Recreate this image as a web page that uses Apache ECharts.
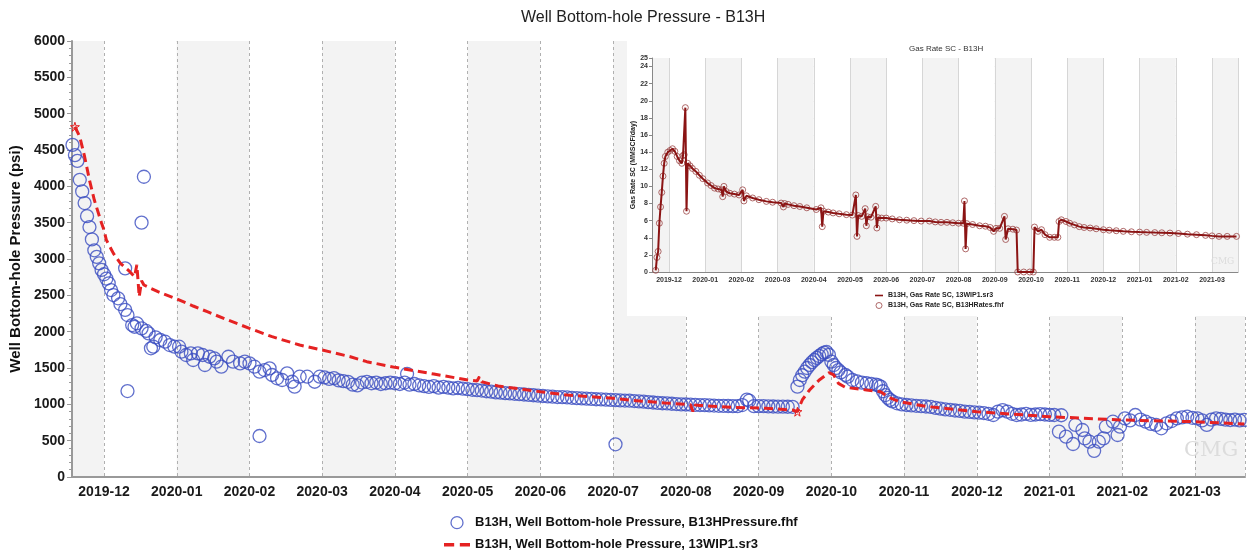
<!DOCTYPE html>
<html><head><meta charset="utf-8">
<script src="https://cdn.jsdelivr.net/npm/echarts@6/dist/echarts.min.js"></script>
<style>html,body{margin:0;padding:0;background:#fff}#c{width:1247px;height:554px}</style>
</head><body><div id="c"></div>
<script>
// ---- tick labels (month axis) ----
const monthLabels = ['2019-12','2020-01','2020-02','2020-03','2020-04','2020-05','2020-06','2020-07','2020-08','2020-09','2020-10','2020-11','2020-12','2021-01','2021-02','2021-03'];

// ---- measured bottom-hole pressure (psi), B13HPressure.fhf ----
const pressDates = [
'2019-11-18','2019-11-19','2019-11-20','2019-11-21','2019-11-22','2019-11-23','2019-11-24','2019-11-25','2019-11-26','2019-11-27','2019-11-28','2019-11-29','2019-11-30',
'2019-12-01','2019-12-02','2019-12-03','2019-12-04','2019-12-05','2019-12-07','2019-12-08','2019-12-10','2019-12-10','2019-12-11','2019-12-11','2019-12-13','2019-12-14','2019-12-15','2019-12-17','2019-12-17','2019-12-18','2019-12-19','2019-12-20','2019-12-21','2019-12-22','2019-12-23','2019-12-25','2019-12-27','2019-12-29','2019-12-31',
'2020-01-02','2020-01-03','2020-01-05','2020-01-07','2020-01-08','2020-01-10','2020-01-12','2020-01-13','2020-01-15','2020-01-17','2020-01-18','2020-01-20','2020-01-23','2020-01-25','2020-01-28','2020-01-30',
'2020-02-01','2020-02-03','2020-02-05','2020-02-05','2020-02-07','2020-02-09','2020-02-10','2020-02-12','2020-02-14','2020-02-16','2020-02-18','2020-02-19','2020-02-21','2020-02-24','2020-02-27','2020-02-29',
'2020-03-02','2020-03-04','2020-03-06','2020-03-08','2020-03-10','2020-03-12','2020-03-14','2020-03-16','2020-03-18','2020-03-20','2020-03-22','2020-03-24','2020-03-26','2020-03-28','2020-03-30',
'2020-04-01','2020-04-03','2020-04-05','2020-04-06','2020-04-07','2020-04-09','2020-04-11','2020-04-13','2020-04-15','2020-04-17','2020-04-19','2020-04-21','2020-04-23','2020-04-25','2020-04-27','2020-04-29',
'2020-05-01','2020-05-03','2020-05-05','2020-05-07','2020-05-09','2020-05-11','2020-05-13','2020-05-15','2020-05-17','2020-05-19','2020-05-21','2020-05-23','2020-05-25','2020-05-27','2020-05-29','2020-05-31',
'2020-06-02','2020-06-04','2020-06-06','2020-06-08','2020-06-10','2020-06-12','2020-06-14','2020-06-16','2020-06-18','2020-06-20','2020-06-22','2020-06-24','2020-06-26','2020-06-28','2020-06-30',
'2020-07-02','2020-07-02','2020-07-04','2020-07-06','2020-07-08','2020-07-10','2020-07-12','2020-07-14','2020-07-16','2020-07-18','2020-07-20','2020-07-22','2020-07-24','2020-07-26','2020-07-28','2020-07-30',
'2020-08-01','2020-08-03','2020-08-05','2020-08-07','2020-08-09','2020-08-11','2020-08-13','2020-08-15','2020-08-17','2020-08-19','2020-08-21','2020-08-23','2020-08-25','2020-08-27','2020-08-28','2020-08-30',
'2020-09-01','2020-09-03','2020-09-05','2020-09-07','2020-09-09','2020-09-11','2020-09-13','2020-09-15','2020-09-17','2020-09-18','2020-09-19','2020-09-20','2020-09-21','2020-09-22','2020-09-23','2020-09-24','2020-09-25','2020-09-26','2020-09-27','2020-09-28','2020-09-29','2020-09-30',
'2020-10-01','2020-10-02','2020-10-03','2020-10-04','2020-10-05','2020-10-07','2020-10-08','2020-10-10','2020-10-12','2020-10-14','2020-10-16','2020-10-18','2020-10-20','2020-10-21','2020-10-22','2020-10-23','2020-10-24','2020-10-25','2020-10-26','2020-10-27','2020-10-29','2020-10-31',
'2020-11-02','2020-11-04','2020-11-06','2020-11-08','2020-11-10','2020-11-12','2020-11-14','2020-11-16','2020-11-18','2020-11-20','2020-11-22','2020-11-24','2020-11-26','2020-11-28','2020-11-30',
'2020-12-02','2020-12-04','2020-12-06','2020-12-08','2020-12-10','2020-12-12','2020-12-14','2020-12-16','2020-12-18','2020-12-20','2020-12-22','2020-12-24','2020-12-26','2020-12-28','2020-12-30',
'2021-01-01','2021-01-03','2021-01-05','2021-01-06','2021-01-08','2021-01-11','2021-01-12','2021-01-15','2021-01-16','2021-01-18','2021-01-20','2021-01-22','2021-01-24','2021-01-25','2021-01-28','2021-01-30','2021-01-31',
'2021-02-02','2021-02-04','2021-02-06','2021-02-08','2021-02-10','2021-02-12','2021-02-14','2021-02-16','2021-02-18','2021-02-20','2021-02-22','2021-02-24','2021-02-26','2021-02-28',
'2021-03-02','2021-03-04','2021-03-06','2021-03-08','2021-03-10','2021-03-12','2021-03-14','2021-03-16','2021-03-18','2021-03-20','2021-03-22'
];
const pressVals = [
4570,4430,4350,4090,3930,3770,3590,3440,3270,3120,3030,2940,2850,
2790,2730,2665,2573,2504,2459,2380,2300,2871,2229,1183,2091,2068,2115,2046,3500,4132,2010,1977,1771,1793,1922,1885,1862,1816,1793,
1793,1724,1679,1702,1610,1702,1679,1541,1655,1633,1587,1518,1655,1587,1564,1587,
1564,1518,1449,564,1472,1495,1404,1358,1335,1427,1311,1243,1380,1380,1311,1380,
1370,1350,1360,1330,1320,1310,1270,1260,1300,1310,1290,1300,1280,1290,1300,
1290,1280,1300,1420,1270,1280,1260,1250,1240,1250,1230,1240,1230,1220,1225,1215,
1210,1200,1195,1190,1180,1175,1165,1160,1155,1150,1145,1140,1135,1130,1125,1120,
1115,1110,1105,1100,1098,1095,1090,1085,1082,1078,1075,1070,1068,1065,1060,
1058,450,1055,1052,1050,1045,1040,1036,1030,1025,1020,1015,1012,1008,1004,1000,
998,995,992,990,988,985,983,980,978,977,976,975,990,1065,1050,975,
975,974,972,970,969,968,967,966,1243,1335,1400,1449,1500,1541,1580,1610,1640,1665,1690,1711,1720,1680,
1587,1541,1500,1472,1440,1404,1380,1335,1315,1298,1290,1280,1270,1260,1243,1180,1128,1090,1060,1040,1014,1000,
991,985,980,975,970,965,950,940,930,925,915,910,900,895,890,
885,880,870,853,900,920,900,870,853,860,870,855,860,865,860,
855,853,624,850,555,454,716,647,532,486,360,486,532,692,761,578,692,
807,780,853,790,761,730,716,670,739,770,807,820,830,815,
807,780,716,790,807,800,790,784,790,780,785
];

// ---- simulated bottom-hole pressure (psi), 13WIP1.sr3 ----
const simDates = [
'2019-11-19','2019-11-21','2019-11-23','2019-11-25','2019-11-27','2019-11-30','2019-12-01','2019-12-02','2019-12-05','2019-12-08','2019-12-12','2019-12-14','2019-12-15','2019-12-16','2019-12-17','2019-12-18','2019-12-24',
'2020-01-01','2020-01-08','2020-01-14','2020-01-22','2020-02-01','2020-02-10','2020-02-21','2020-02-29','2020-03-13','2020-03-20','2020-04-01','2020-04-17','2020-05-01','2020-05-05','2020-05-06','2020-05-07','2020-05-14',
'2020-06-01','2020-06-12','2020-07-01','2020-07-08','2020-07-23','2020-08-03','2020-08-04','2020-08-05','2020-08-07','2020-08-21','2020-09-04','2020-09-15','2020-09-17',
'2020-09-19','2020-09-22','2020-09-26','2020-09-30','2020-10-02','2020-10-04','2020-10-07','2020-10-16','2020-10-22','2020-10-25','2020-10-30','2020-11-11','2020-12-01',
'2021-01-01','2021-02-01','2021-03-01','2021-03-22'
];
const simVals = [
4820,4683,4408,4087,3811,3491,3399,3261,3078,2940,2825,2756,2920,2480,2700,2642,2550,
2449,2353,2275,2170,2046,1931,1816,1755,1655,1587,1509,1417,1335,1320,1380,1310,1252,
1174,1128,1083,1058,1020,995,900,990,985,959,945,922,899,
1060,1197,1335,1435,1404,1289,1234,1197,1174,1105,1036,968,899,
830,784,761,729
];
// star markers on the simulated curve
const simStarDates = ['2019-11-19','2020-09-17'];
const simStarVals = [4820, 899];

// ---- inset: gas rate SC (MMSCF/day) ----
const gasDates = [
'2019-11-20','2019-11-21','2019-11-22','2019-11-23','2019-11-24','2019-11-25','2019-11-26','2019-11-27','2019-11-28','2019-11-30',
'2019-12-02','2019-12-04','2019-12-06','2019-12-08','2019-12-10','2019-12-12','2019-12-13','2019-12-14','2019-12-15','2019-12-16','2019-12-17','2019-12-19','2019-12-21','2019-12-24','2019-12-27','2019-12-30',
'2020-01-03','2020-01-06','2020-01-09','2020-01-12','2020-01-15','2020-01-16','2020-01-17','2020-01-19','2020-01-22','2020-01-26','2020-01-30',
'2020-02-02','2020-02-03','2020-02-05','2020-02-10','2020-02-15','2020-02-21','2020-02-26',
'2020-03-04','2020-03-06','2020-03-07','2020-03-10','2020-03-15','2020-03-20','2020-03-26',
'2020-04-03','2020-04-07','2020-04-08','2020-04-09','2020-04-13','2020-04-17','2020-04-22','2020-04-28',
'2020-05-03','2020-05-06','2020-05-07','2020-05-08','2020-05-11','2020-05-14','2020-05-15','2020-05-16','2020-05-19','2020-05-23','2020-05-24','2020-05-25','2020-05-28',
'2020-06-01','2020-06-06','2020-06-12','2020-06-18','2020-06-24','2020-06-30',
'2020-07-07','2020-07-12','2020-07-17','2020-07-22','2020-07-27',
'2020-08-01','2020-08-05','2020-08-06','2020-08-07','2020-08-08','2020-08-13','2020-08-19','2020-08-24','2020-08-28','2020-08-31',
'2020-09-02','2020-09-05','2020-09-09','2020-09-10','2020-09-12','2020-09-16','2020-09-19','2020-09-20','2020-09-25','2020-09-30',
'2020-10-03','2020-10-04','2020-10-07','2020-10-10','2020-10-13','2020-10-17','2020-10-21','2020-10-24','2020-10-25','2020-10-27','2020-10-31',
'2020-11-03','2020-11-07','2020-11-11','2020-11-15','2020-11-20','2020-11-25',
'2020-12-01','2020-12-06','2020-12-12','2020-12-18','2020-12-25',
'2021-01-01','2021-01-07','2021-01-14','2021-01-20','2021-01-27',
'2021-02-03','2021-02-10','2021-02-17','2021-02-24',
'2021-03-01','2021-03-07','2021-03-14','2021-03-22'
];
const gasRate = [
0.2,1.7,2.4,5.7,7.6,9.3,11.2,12.7,13.5,14.0,
14.2,14.4,14.1,13.5,13.0,12.7,13.6,13.7,19.2,7.1,12.7,12.4,12.1,11.75,11.3,10.9,
10.4,10.1,9.8,9.7,9.6,8.8,10.0,9.4,9.2,9.1,9.0,
9.6,8.3,8.9,8.65,8.45,8.25,8.15,
8.05,7.6,8.0,7.9,7.75,7.65,7.5,
7.3,7.5,5.3,7.1,7.0,6.9,6.8,6.7,
6.65,9.0,4.16,6.6,6.5,7.4,5.4,6.45,6.4,7.67,5.14,6.35,6.3,
6.3,6.2,6.1,6.05,6.0,5.95,
5.95,5.85,5.8,5.8,5.75,
5.7,5.7,8.3,2.7,5.65,5.55,5.4,5.35,5.2,4.75,
5.1,5.1,6.5,3.8,5.05,5.0,4.9,0,0,0,
0,5.25,4.75,4.94,4.36,4.05,4.05,4.05,5.9,6.1,5.9,
5.7,5.5,5.3,5.2,5.14,5.05,
4.94,4.88,4.82,4.75,4.7,
4.66,4.63,4.6,4.58,4.55,
4.5,4.42,4.36,4.28,
4.22,4.16,4.16,4.16
];

function mIdx(s){
  const p = s.split('-').map(Number);
  const dim = new Date(p[0], p[1], 0).getDate();
  return (p[0]-2019)*12 + (p[1]-12) + (p[2]-1)/dim;
}
function monthFmt(v){
  const r = Math.round(v);
  if (Math.abs(v - r) > 1e-6) return '';
  return monthLabels[r] || '';
}
const FF = '"Liberation Sans", Arial, sans-serif';
const STAR = 'path://M50,0 L61,35 L98,35 L68,57 L79,91 L50,70 L21,91 L32,57 L2,35 L39,35 Z';
const DASH_ICON = 'path://M0,0 L9,0 L9,3.2 L0,3.2 Z M14,0 L23,0 L23,3.2 L14,3.2 Z';
const LINE_ICON = 'path://M0,0 L10,0 L10,2 L0,2 Z';

const pressData = pressDates.map((d,i)=>[mIdx(d), pressVals[i]]);
const simData = simDates.map((d,i)=>[mIdx(d), simVals[i]]);
const starData = simStarDates.map((d,i)=>({coord:[mIdx(d), simStarVals[i]]}));
const gasData = gasDates.map((d,i)=>[mIdx(d), gasRate[i]]);

const chart = echarts.init(document.getElementById('c'), null, {renderer:'canvas'});
chart.setOption({
  backgroundColor:'#ffffff',
  animation:false,
  textStyle:{fontFamily:FF},
  title:[
    {text:'Well Bottom-hole Pressure - B13H', left:516, top:5, textStyle:{fontSize:16, fontWeight:'normal', color:'#222', fontFamily:FF}},
    {text:'Gas Rate SC - B13H', left:904, top:40, z:6, textStyle:{fontSize:8, fontWeight:'normal', color:'#333', fontFamily:FF}}
  ],
  legend:[
    {orient:'vertical', left:444, top:516, padding:0, itemWidth:26, itemHeight:12, itemGap:9,
     textStyle:{fontSize:13, fontWeight:'bold', color:'#111', fontFamily:FF},
     data:[
       {name:'B13H, Well Bottom-hole Pressure, B13HPressure.fhf', icon:'circle', itemStyle:{color:'rgba(0,0,0,0)', borderColor:'#3a4cc0', borderWidth:1.3}},
       {name:'B13H, Well Bottom-hole Pressure, 13WIP1.sr3', icon:DASH_ICON, itemStyle:{color:'#e52222', borderWidth:0}}
     ]},
    {orient:'vertical', left:875, top:292, padding:0, z:6, itemWidth:8, itemHeight:6, itemGap:3,
     textStyle:{fontSize:7, fontWeight:'bold', color:'#222', fontFamily:FF},
     data:[
       {name:'B13H, Gas Rate SC, 13WIP1.sr3', icon:LINE_ICON, itemStyle:{color:'#8b1414', borderWidth:0}},
       {name:'B13H, Gas Rate SC, B13HRates.fhf', icon:'circle', itemStyle:{color:'rgba(0,0,0,0)', borderColor:'#9b4545', borderWidth:1}}
     ]}
  ],
  grid:[
    {left:71, top:41, right:2, bottom:77},
    {left:652, top:58, right:9, bottom:282, z:2}
  ],
  graphic:[
    {type:'rect', z:1, shape:{x:627, y:30, width:620, height:286}, style:{fill:'#ffffff'}},
    {type:'text', z:1, left:1184, top:440, style:{text:'CMG', fontSize:21, fontFamily:'"DejaVu Serif", serif', fill:'#dcdcdc'}},
    {type:'text', z:6, left:1211, top:257, style:{text:'CMG', fontSize:9, fontFamily:'"DejaVu Serif", serif', fill:'#dcdcdc'}}
  ],
  xAxis:[
    {gridIndex:0, type:'value', min:-0.4396, max:15.687, splitNumber:16,
     axisLine:{show:true, onZero:false, lineStyle:{color:'#999', width:2}},
     axisTick:{show:false},
     axisLabel:{formatter:monthFmt, fontSize:14, fontWeight:'bold', color:'#1a1a1a', margin:8, fontFamily:FF, showMinLabel:false, showMaxLabel:false},
     splitLine:{show:true, lineStyle:{color:'#b0b0b0', width:1, type:[3,3]}},
     splitArea:{show:true, areaStyle:{color:['#f3f3f3','#ffffff']}}},
    {gridIndex:1, type:'value', min:-0.4696, max:15.718, splitNumber:16, z:2,
     axisLine:{show:true, onZero:false, lineStyle:{color:'#888', width:1}},
     axisTick:{show:false},
     axisLabel:{formatter:monthFmt, fontSize:7, fontWeight:'bold', color:'#333', margin:5, fontFamily:FF, showMinLabel:false, showMaxLabel:false},
     splitLine:{show:true, lineStyle:{color:'#d6d6d6', width:1}},
     splitArea:{show:true, areaStyle:{color:['#f3f3f3','#ffffff']}}}
  ],
  yAxis:[
    {gridIndex:0, type:'value', min:0, max:6000, interval:500,
     name:'Well Bottom-hole Pressure (psi)', nameLocation:'middle', nameGap:47,
     nameTextStyle:{fontSize:15, fontWeight:'bold', color:'#111', fontFamily:FF},
     axisLine:{show:true, onZero:false, lineStyle:{color:'#999', width:2}},
     axisTick:{show:true, length:5, lineStyle:{color:'#999'}},
     minorTick:{show:true, splitNumber:5, length:3, lineStyle:{color:'#999'}},
     axisLabel:{formatter:v=>String(v), fontSize:14, fontWeight:'bold', color:'#1a1a1a', margin:7, fontFamily:FF},
     splitLine:{show:true, lineStyle:{color:'#b0b0b0', width:1, type:[3,3]}}},
    {gridIndex:1, type:'value', min:0, max:25, interval:2, z:2,
     name:'Gas Rate SC (MMSCF/day)', nameLocation:'middle', nameGap:15,
     nameTextStyle:{fontSize:7, fontWeight:'bold', color:'#222', fontFamily:FF},
     axisLine:{show:true, onZero:false, lineStyle:{color:'#888', width:1}},
     axisTick:{show:true, length:3, lineStyle:{color:'#888'}},
     axisLabel:{formatter:v=>String(v), fontSize:7, fontWeight:'bold', color:'#333', margin:4, fontFamily:FF},
     splitLine:{show:true, lineStyle:{color:'#d6d6d6', width:1}}}
  ],
  series:[
    {name:'B13H, Well Bottom-hole Pressure, B13HPressure.fhf', type:'scatter', xAxisIndex:0, yAxisIndex:0,
     data:pressData, symbol:'circle', symbolSize:13, z:3,
     itemStyle:{color:'rgba(0,0,0,0)', borderColor:'#3a4cc0', borderWidth:1.3}},
    {name:'B13H, Well Bottom-hole Pressure, 13WIP1.sr3', type:'line', xAxisIndex:0, yAxisIndex:0,
     data:simData, symbol:'none', z:4,
     itemStyle:{color:'#e52222'},
     lineStyle:{color:'#e52222', width:3, type:[9,5]},
     markPoint:{symbol:STAR, symbolSize:9, label:{show:false}, silent:true,
       itemStyle:{color:'rgba(0,0,0,0)', borderColor:'#e52222', borderWidth:1},
       data:starData}},
    {name:'B13H, Gas Rate SC, B13HRates.fhf', type:'scatter', xAxisIndex:1, yAxisIndex:1,
     data:gasData, symbol:'circle', symbolSize:6, z:4,
     itemStyle:{color:'rgba(0,0,0,0)', borderColor:'#9b4545', borderWidth:1}},
    {name:'B13H, Gas Rate SC, 13WIP1.sr3', type:'line', xAxisIndex:1, yAxisIndex:1,
     data:gasData, symbol:'none', z:5,
     itemStyle:{color:'#8b1414'},
     lineStyle:{color:'#8b1414', width:2}}
  ]
});
</script></body></html>
